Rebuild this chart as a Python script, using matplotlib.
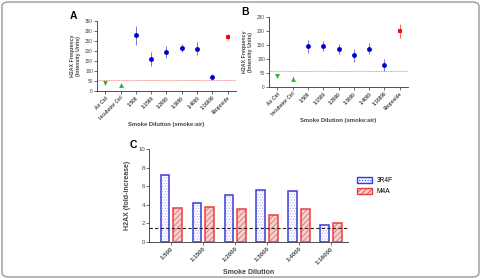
import matplotlib
matplotlib.use("Agg")
import matplotlib.pyplot as plt
from matplotlib.patches import FancyBboxPatch, Patch
import numpy as np

plt.rcParams['font.family'] = ['Liberation Sans', 'DejaVu Sans']
plt.rcParams['hatch.linewidth'] = 0.6

# ---- data ----
cats_ab = ["Air Ctrl", "Incubator Ctrl", "1:500", "1:1500", "1:2000", "1:3000", "1:4000", "1:16000", "Etoposide"]
a_vals = [40, 30, 278, 160, 195, 215, 212, 70, 272]
a_err = [5, 5, 47, 37, 32, 22, 32, 15, 15]
b_vals = [40, 30, 145, 147, 136, 113, 137, 78, 200]
b_err = [6, 10, 22, 17, 17, 22, 20, 22, 25]
thr_a = 57
thr_b = 57

cats_c = ["1:500", "1:1500", "1:2000", "1:3000", "1:4000", "1:16000"]
c_3r4f = [7.25, 4.2, 5.05, 5.6, 5.5, 1.85]
c_m4a = [3.7, 3.8, 3.5, 2.9, 3.5, 2.05]
thr_c = 1.5

W, H = 481, 279
fig = plt.figure(figsize=(W / 100, H / 100), dpi=100)

def ax_px(l, t, r, b):
    return fig.add_axes([l / W, 1 - b / H, (r - l) / W, (b - t) / H])

border = FancyBboxPatch((2 / W, 2 / H), 1 - 4 / W, 1 - 4 / H,
                        boxstyle="round,pad=0,rounding_size=0.015",
                        transform=fig.transFigure, fill=False,
                        edgecolor="#9a9a9a", linewidth=1.0)
fig.patches.append(border)

def style_ax(ax):
    for s in ["top", "right"]:
        ax.spines[s].set_visible(False)
    for s in ["left", "bottom"]:
        ax.spines[s].set_linewidth(0.6)
        ax.spines[s].set_color("#333333")
    ax.tick_params(length=2, width=0.5, pad=1, colors="#333333")

def scatter_panel(ax, vals, errs, thr, ymax, letter):
    style_ax(ax)
    x = np.arange(len(vals))
    colors = ["#22bb22", "#22bb22"] + ["#0000cc"] * 6 + ["#ee1111"]
    ecolors = ["#66cc66", "#66cc66"] + ["#7777dd"] * 6 + ["#ee6666"]
    markers = ["v", "^"] + ["o"] * 6 + ["s"]
    for i in range(len(vals)):
        ax.errorbar(x[i], vals[i], yerr=errs[i], fmt=markers[i], color=colors[i],
                    ecolor=ecolors[i], elinewidth=0.7, capsize=1.5, capthick=0.7,
                    markersize=3.5, markeredgewidth=0)
    ax.axhline(thr, color="#ee6666", linestyle=(0, (1, 1)), linewidth=0.6)
    ax.set_xlim(-0.55, len(vals) - 0.45)
    ax.set_ylim(0, ymax)
    ax.set_yticks(np.arange(0, ymax + 1, 50))
    ax.set_xticks(x)
    ax.set_xticklabels(cats_ab, rotation=45, ha="right", rotation_mode="anchor",
                       fontsize=3.4, fontweight="bold", color="#444444")
    for lab in ax.get_yticklabels():
        lab.set_fontsize(3.4)
        lab.set_color("#444444")
    ax.set_ylabel("H2AX Frequency\n(Intensity Units)", fontsize=3.8, fontweight="bold",
                  color="#444444", labelpad=3, linespacing=1.1)
    ax.set_xlabel("Smoke Dilution (smoke:air)", fontsize=4.2, fontweight="bold",
                  color="#444444", labelpad=1)
    ax.text(-0.17, 1.07, letter, transform=ax.transAxes, fontsize=7.5,
            fontweight="bold", ha="center", va="center")

axA = ax_px(97, 21, 236, 91)
scatter_panel(axA, a_vals, a_err, thr_a, 350, "A")
axB = ax_px(269, 17, 408, 87)
scatter_panel(axB, b_vals, b_err, thr_b, 250, "B")

# ---- panel C ----
axC = ax_px(149, 149, 348, 242)
style_ax(axC)
xc = np.arange(len(cats_c))
bw = 0.28
off = 0.19
axC.bar(xc - off, c_3r4f, bw, facecolor="white", edgecolor="#b8b8ee", hatch="......", linewidth=0)
axC.bar(xc - off, c_3r4f, bw, fill=False, edgecolor="#3a3ae0", linewidth=1.1)
axC.bar(xc + off, c_m4a, bw, facecolor="#f8d0d0", edgecolor="#e07070", hatch="//////", linewidth=0)
axC.bar(xc + off, c_m4a, bw, fill=False, edgecolor="#e84040", linewidth=1.1)
axC.axhline(thr_c, color="#222222", linestyle=(0, (3, 2)), linewidth=0.8)
axC.set_xlim(-0.69, 5.53)
axC.set_ylim(0, 10)
axC.set_yticks(np.arange(0, 11, 2))
axC.set_xticks(xc)
axC.set_xticklabels(cats_c, rotation=45, ha="right", rotation_mode="anchor",
                    fontsize=4.3, fontweight="bold", color="#444444")
for lab in axC.get_yticklabels():
    lab.set_fontsize(4.3)
    lab.set_color("#444444")
axC.set_ylabel("H2AX (fold-increase)", fontsize=5, fontweight="bold", color="#444444", labelpad=5)
axC.set_xlabel("Smoke Dilution", fontsize=5, fontweight="bold", color="#444444")
axC.xaxis.set_label_coords(0.5, -(272 - 242) / (242 - 149))
axC.xaxis.label.set_va("center")
axC.text(-0.08, 1.04, "C", transform=axC.transAxes, fontsize=7.5, fontweight="bold",
         ha="center", va="center")

handles = [Patch(facecolor="white", edgecolor="#3a3ae0", hatch="......", linewidth=1.0, label="3R4F"),
           Patch(facecolor="#f8d0d0", edgecolor="#e84040", hatch="//////", linewidth=1.0, label="M4A")]
fig.legend(handles=handles, loc="upper left", bbox_to_anchor=(351 / W, 1 - 171 / H),
           frameon=False, fontsize=4.8, handlelength=2.2, handleheight=1.0,
           labelspacing=0.5, handletextpad=0.8)

fig.savefig("out.png", dpi=100)
